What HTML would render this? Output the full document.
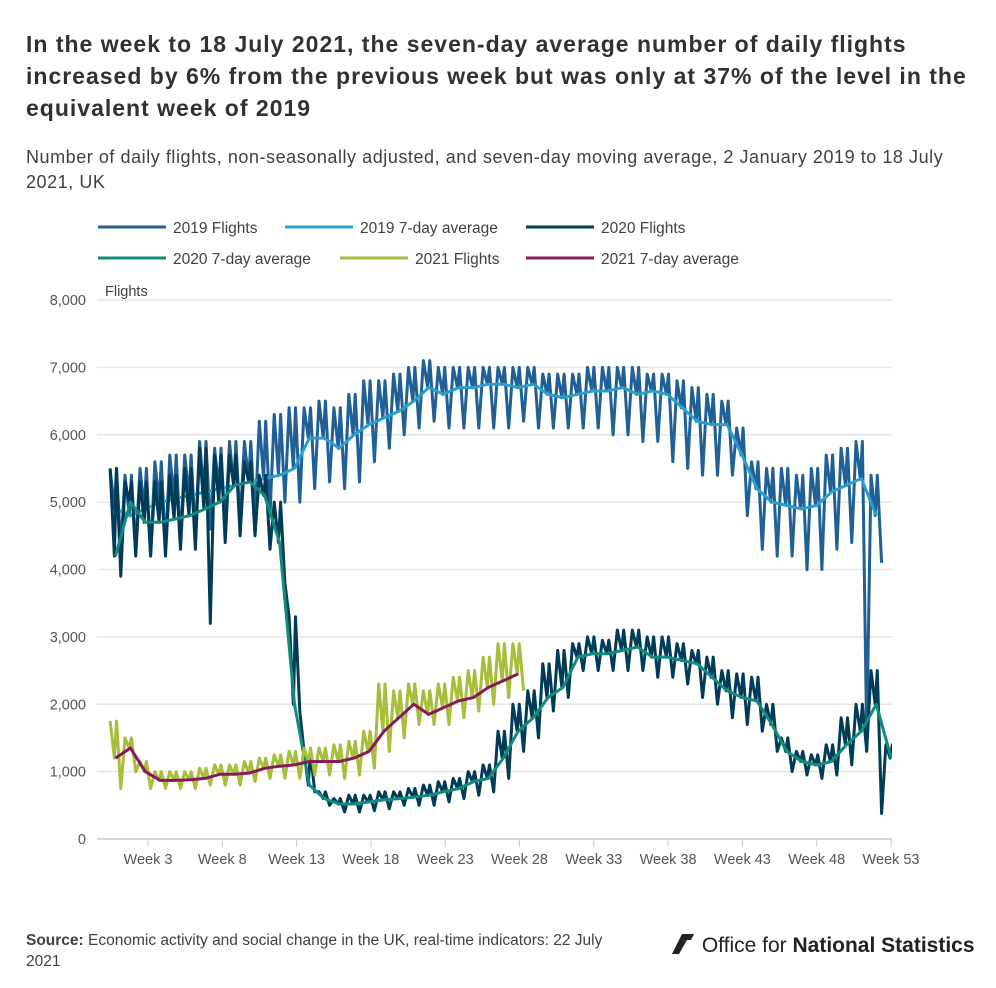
<!DOCTYPE html>
<html><head><meta charset="utf-8">
<style>
body{margin:0;background:#fff;font-family:"Liberation Sans",sans-serif;color:#222;}
#wrap{position:relative;width:996px;height:988px;overflow:hidden;}
h1{position:absolute;left:26px;top:28px;margin:0;font-size:23px;letter-spacing:1px;line-height:32px;font-weight:bold;color:#323132;width:970px;}
.sub{position:absolute;left:26px;top:145px;font-size:18px;letter-spacing:0.55px;line-height:25px;color:#414042;width:970px;}
.src{position:absolute;left:26px;top:930px;font-size:15.5px;line-height:21px;color:#414042;width:640px;}
.logo{position:absolute;left:670px;top:932px;font-size:21px;color:#222;}
</style></head><body>
<div id="wrap">
<h1>In the week to 18 July 2021, the seven-day average number of daily flights<br>increased by 6% from the previous week but was only at 37% of the level in the<br>equivalent week of 2019</h1>
<div class="sub">Number of daily flights, non-seasonally adjusted, and seven-day moving average, 2 January 2019 to 18 July<br>2021, UK</div>
<svg id="chart" width="996" height="988" style="position:absolute;left:0;top:0"></svg>
<div class="src"><b>Source:</b> Economic activity and social change in the UK, real-time indicators: 22 July<br>2021</div>
<div class="logo"><svg width="26" height="24" style="vertical-align:-4px"><polygon points="2,22 12,2 24,2 14,22" fill="#222"/><polygon points="9,22 17,8 24,8 16,22" fill="#fff"/></svg> Office for <b>National Statistics</b></div>
</div>
<script>
const yTicks=[0,1000,2000,3000,4000,5000,6000,7000,8000];
const xTickWeeks=[3,8,13,18,23,28,33,38,43,48,53];
const avg19=[4900,4800,4900,5000,5050,5100,5150,5200,5250,5300,5350,5400,5500,5950,5950,5800,6000,6150,6250,6350,6500,6700,6600,6700,6700,6750,6750,6700,6750,6600,6550,6600,6650,6650,6700,6600,6650,6600,6400,6200,6150,6150,5700,5200,5000,4950,4900,4950,5150,5250,5350,4800];
const hi19=[5500,5400,5500,5600,5700,5700,5900,5800,5900,5900,6200,6300,6400,6400,6500,6400,6600,6800,6800,6900,7000,7100,7000,7000,7000,7000,7000,7000,7000,6900,6900,6900,7000,7000,7000,7000,6900,6900,6800,6700,6600,6500,6100,5600,5500,5500,5400,5500,5700,5800,5900,5400];
const lo19=[4300,4300,4200,4300,4400,4500,4600,4600,4700,4700,4800,5000,5000,5200,5300,5200,5300,5600,5800,6000,6100,6200,6100,6100,6100,6100,6100,6200,6100,6100,6100,6100,6100,6000,6000,5900,5900,5600,5500,5400,5400,5400,4800,4300,4200,4200,4000,4000,4300,4400,1500,4100];
const avg20=[4200,5000,4700,4700,4750,4800,4900,5000,5250,5300,5100,4400,2000,800,600,520,520,550,580,600,620,650,700,750,850,900,1200,1600,1800,2100,2250,2700,2750,2750,2800,2850,2700,2700,2650,2600,2400,2200,2100,2050,1700,1300,1150,1100,1150,1400,1600,2000,1200];
const hi20=[5500,5300,5300,5300,5400,5500,5800,5700,5700,5600,5400,5000,3300,1300,700,600,650,650,700,700,750,800,850,900,1000,1100,1600,2000,2200,2600,2800,2900,3000,2950,3100,3100,3000,3000,2900,2800,2700,2500,2450,2400,2000,1500,1300,1250,1400,1800,2000,2500,1400];
const lo20=[3900,4200,4200,4200,4300,4300,3200,4400,4500,4500,4300,3800,1900,700,500,400,400,420,450,500,500,500,550,600,650,700,900,1300,1500,1900,2100,2500,2500,2500,2500,2500,2400,2400,2300,2100,2000,1800,1700,1600,1300,1000,950,900,950,1100,1300,380,950];
const avg21=[1200,1350,1000,870,870,880,900,960,960,980,1050,1080,1100,1150,1150,1150,1200,1300,1600,1800,2000,1850,1950,2050,2100,2250,2350,2450];
const hi21=[1750,1500,1150,1000,1000,1000,1050,1100,1100,1150,1200,1250,1300,1350,1350,1400,1450,1600,2300,2200,2300,2200,2300,2400,2500,2700,2900,2900];
const lo21=[750,1000,750,750,750,750,800,800,800,850,900,900,900,950,950,900,950,1050,1300,1500,1700,1700,1700,1800,1900,2000,2100,2200];
const legendNames=["2019 Flights","2019 7-day average","2020 Flights","2020 7-day average","2021 Flights","2021 7-day average"];
const colors=["#206095","#27a0cc","#003c57","#118c7b","#a8bd3a","#871a5b"];

const NS="http://www.w3.org/2000/svg";
const svg=document.getElementById("chart");
const X0=108,DAY=(888-108)/366,Y0=839,YS=539/8000;
const xDay=d=>X0+d*DAY;
const xWeek=w=>xDay((w-1)*7+3.5);
const y=v=>Y0-v*YS;
function mk(t,a){const e=document.createElementNS(NS,t);for(const k in a)e.setAttribute(k,a[k]);svg.appendChild(e);return e;}

const defs=mk("defs",{});
const cp=document.createElementNS(NS,"clipPath");cp.setAttribute("id","plot");
const cr=document.createElementNS(NS,"rect");cr.setAttribute("x",100);cr.setAttribute("y",290);cr.setAttribute("width",792);cr.setAttribute("height",560);
cp.appendChild(cr);defs.appendChild(cp);

legendNames.forEach((n,i)=>{
  const col=i%3,row=Math.floor(i/3);
  const xs=row===0?[98,285,526]:[98,340,526];
  const yy=row===0?227:258;
  const l=mk("line",{x1:xs[col],x2:xs[col]+68,y1:yy,y2:yy,stroke:colors[i],"stroke-width":3});
  
  
  const t=mk("text",{x:xs[col]+75,y:yy+6,"font-size":"15.5","fill":"#414042","font-family":"Liberation Sans, sans-serif"});
  t.textContent=n;
  
  
});
const yt=mk("text",{x:105,y:296,"font-size":"14.5",fill:"#414042"});yt.textContent="Flights";



yTicks.forEach(v=>{
  if(v>0){const g=mk("line",{x1:97,x2:892,y1:y(v),y2:y(v),stroke:"#e6e6e6","stroke-width":1.5});
  
  }
  const t=mk("text",{x:86,y:y(v)+5,"text-anchor":"end","font-size":"14.5",fill:"#555"});
  t.textContent=v.toLocaleString("en-GB");
  
  
});
const ax=mk("line",{x1:97,x2:892,y1:Y0,y2:Y0,stroke:"#ccc","stroke-width":1.5});


xTickWeeks.forEach((w,i)=>{
  const xx=148+(w-3)*14.86;
  const tk=mk("line",{x1:xx,x2:xx,y1:Y0,y2:Y0+8,stroke:"#ccc","stroke-width":1});
  
  
  const t=mk("text",{x:xx,y:864,"text-anchor":"middle","font-size":"14.5",fill:"#555"});
  t.textContent="Week "+w;
  
  
});

function daily(avg,hi,lo,color,name,startDay){
  const pts=[];
  for(let w=0;w<avg.length;w++){
    const b=w*7;
    [[1,hi[w]],[3,avg[w]],[4,hi[w]],[6,lo[w]]].forEach(([d,v])=>{
      const dd=b+d; if(dd>=startDay) pts.push(xDay(dd).toFixed(1)+","+y(v).toFixed(1));
    });
  }
  const p=mk("polyline",{points:pts.join(" "),fill:"none",stroke:color,"stroke-width":3,"stroke-linejoin":"round","clip-path":"url(#plot)"});
  
  
}
function avgLine(avg,color,name){
  const pts=avg.map((v,i)=>xWeek(i+1).toFixed(1)+","+y(v).toFixed(1));
  const p=mk("polyline",{points:pts.join(" "),fill:"none",stroke:color,"stroke-width":3,"stroke-linejoin":"round","clip-path":"url(#plot)"});
  
  
}
daily(avg19,hi19,lo19,colors[0],'series-2019-flights',1);
avgLine(avg19,colors[1],'series-2019-average');
daily(avg20,hi20,lo20,colors[2],'series-2020-flights',1);
avgLine(avg20,colors[3],'series-2020-average');
daily(avg21,hi21,lo21,colors[4],'series-2021-flights',0);
avgLine(avg21,colors[5],'series-2021-average');
</script>
</body></html>
